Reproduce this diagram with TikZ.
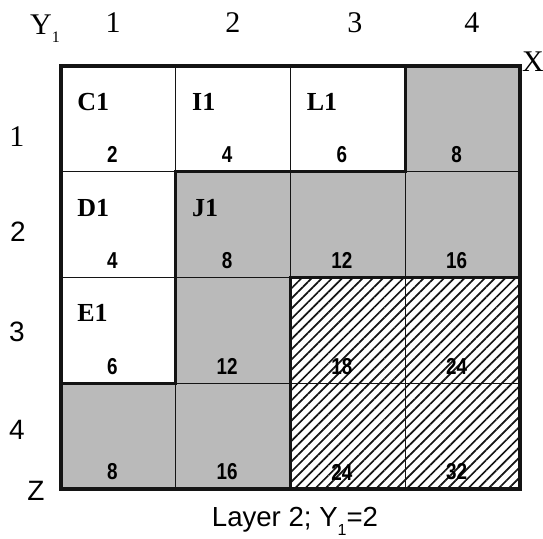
\documentclass[tikz,border=0pt]{standalone}
\usepackage{fontspec}
\setmainfont{Liberation Serif}
\setsansfont{Liberation Sans}
\newfontfamily\narrowsans[FakeStretch=0.82]{Liberation Sans}
\usetikzlibrary{patterns.meta,positioning}
\definecolor{ink}{HTML}{141414}
\definecolor{shade}{HTML}{BABABA}
\tikzset{
  cell/.style={draw=ink,line width=0.5pt,minimum width=57.375pt,
               minimum height=52.875pt,inner sep=0pt,outer sep=0pt},
  blank/.style={cell,fill=white},
  grey/.style={cell,fill=shade},
  hatch/.style={cell,pattern={Lines[angle=45,distance=3.6pt,line width=0.85pt]},
                pattern color=ink},
  tag/.style={font=\fontsize{13}{13}\selectfont\bfseries,anchor=west,inner sep=0pt},
  count/.style={font=\narrowsans\bfseries\fontsize{11.5}{11.5}\selectfont,inner sep=0pt},
  axis/.style={font=\fontsize{15}{15}\selectfont,inner sep=0pt},
  axsans/.style={font=\sffamily\fontsize{14}{14}\selectfont,inner sep=0pt},
  bold edge/.style={ink,line width=1.6pt}
}

\begin{document}
\begin{tikzpicture}[x=0.5pt,y=-0.5pt]
  \fill[white] (0,0) rectangle (543,539);
  \useasboundingbox (0,0) rectangle (543,539);
  % cells of layer 2
  \foreach \r/\c/\kind in {1/1/blank,1/2/blank,1/3/blank,1/4/grey,
                           2/1/blank,2/2/grey,2/3/grey,2/4/grey,
                           3/1/blank,3/2/grey,3/3/hatch,3/4/hatch,
                           4/1/grey,4/2/grey,4/3/hatch,4/4/hatch}
    \node[\kind] (c\r\c) at ({61+114.75*(\c-0.5)},{66+105.75*(\r-0.5)}) {};
  \foreach \r in {1,...,4}
    \foreach \c in {1,...,4}{
      \pgfmathtruncatemacro\val{2*\r*\c}
      \node[count,xshift=-3pt,yshift=8.5pt] (n\r\c) at (c\r\c.south) {\val};
    }
  \foreach \r/\c/\name in {1/1/C1,1/2/I1,1/3/L1,2/1/D1,2/2/J1,3/1/E1}
    \node[tag,xshift=8pt,yshift=8.5pt] (t\r\c) at (c\r\c.west) {\name};
  \draw[bold edge] (c11.north west) rectangle (c44.south east);
  \draw[bold edge] (c14.north west) -- (c24.north west) -- (c22.north west)
    -- (c42.north west) -- (c41.north west);
  \draw[bold edge] (c33.north west) rectangle (c44.south east);
  % axes
  \node[axis] (ylab) at (45,29) {Y\raisebox{-0.6ex}{\footnotesize 1}};
  \node[axis] (col1) at (113,23) {1};
  \node[axis] (col2) at (233,23) {2};
  \node[axis] (col3) at (355,23) {3};
  \node[axis] (col4) at (472,23) {4};
  \node[axis] (xlab) at (533,62) {X};
  \node[axis] (row1) at (17,137) {1};
  \node[axsans] (row2) at (18,232) {2};
  \node[axsans] (row3) at (17,332) {3};
  \node[axsans] (row4) at (17,430) {4};
  \node[axsans] (zlab) at (36,491) {Z};
  \node[axsans,font=\sffamily\fontsize{13.8}{13.8}\selectfont] (caption) at (295,521)
    {Layer 2; Y\raisebox{-0.6ex}{\footnotesize 1}=2};
\end{tikzpicture}
\end{document}
